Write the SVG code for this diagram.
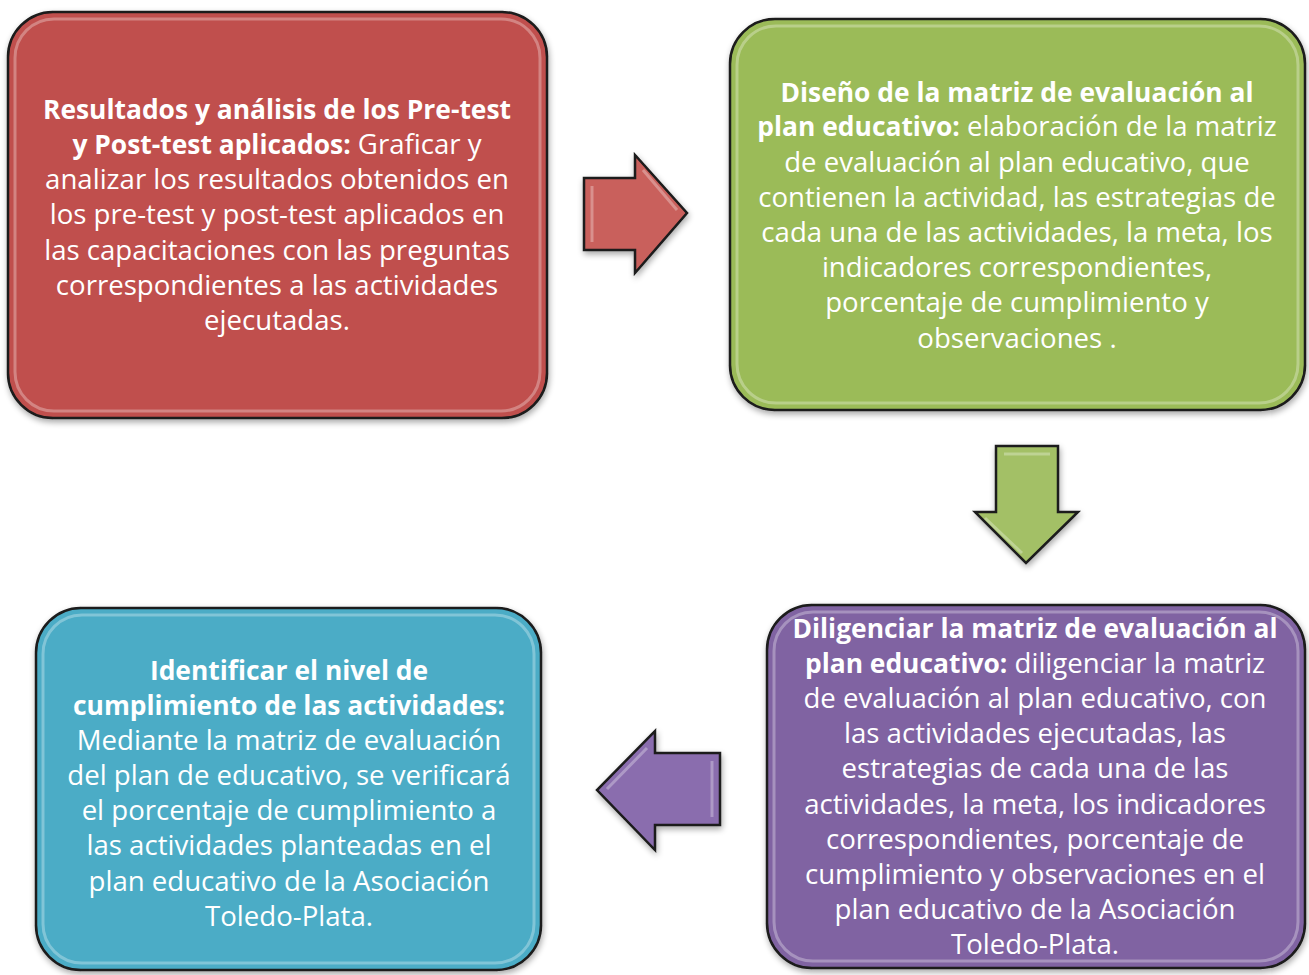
<svg xmlns="http://www.w3.org/2000/svg" width="1309" height="975" viewBox="0 0 1309 975">
<style>
.t{font-family:"Open Sans","Noto Sans",sans-serif;font-size:27.6px;fill:#fff;text-anchor:middle}
.b{font-weight:bold;font-size:26.4px}
.box{stroke:#1a1a1a;stroke-width:2.5}
.hl{fill:none;stroke:#fff;stroke-opacity:.3;stroke-width:3}
.arr{stroke:#1a1a1a;stroke-width:2.5;stroke-linejoin:miter}
</style>
<defs>
<filter id="sh" x="-10%" y="-10%" width="120%" height="120%"><feGaussianBlur in="SourceAlpha" stdDeviation="3"/><feOffset dx="1" dy="3"/><feComponentTransfer><feFuncA type="linear" slope="0.35"/></feComponentTransfer><feMerge><feMergeNode/><feMergeNode in="SourceGraphic"/></feMerge></filter>
</defs>
<g id="connectors">
<path class="arr" d="M584,178 H635 V155 L687,213 L635,273 V250 H584 Z" fill="#C9605C" filter="url(#sh)"/>
<path d="M592,186 V242 M643,170 L677,210" class="hl"/>
<path class="arr" d="M996,446 H1058 V512 H1078 L1026,563 L975,512 H996 Z" fill="#A3C066" filter="url(#sh)"/>
<path d="M1004,454 H1050 M985,518 L1022,553" class="hl"/>
<path class="arr" d="M720,753 V825 H655 V850 L597,790 L655,731 V753 Z" fill="#8A6DAE" filter="url(#sh)"/>
<path d="M712,761 V817 M607,789 L647,748" class="hl"/>
</g>
<g id="n1">
<rect class="box" x="8" y="12" width="539" height="406" rx="45" fill="#C0504D" filter="url(#sh)"/>
<rect class="hl" x="15" y="19" width="525" height="392" rx="39"/>
<text class="t"><tspan class="b" x="277" y="119">Resultados y análisis de los Pre-test</tspan><tspan x="277" y="154"><tspan class="b">y Post-test aplicados:</tspan> Graficar y</tspan><tspan x="277" y="189">analizar los resultados obtenidos en</tspan><tspan x="277" y="224">los pre-test y post-test aplicados en</tspan><tspan x="277" y="260">las capacitaciones con las preguntas</tspan><tspan x="277" y="295">correspondientes a las actividades</tspan><tspan x="277" y="330">ejecutadas.</tspan></text>
</g>
<g id="n2">
<rect class="box" x="730" y="19" width="575" height="391" rx="45" fill="#9BBB59" filter="url(#sh)"/>
<rect class="hl" x="737" y="26" width="561" height="377" rx="39"/>
<text class="t"><tspan class="b" x="1017" y="102">Diseño de la matriz de evaluación al</tspan><tspan x="1017" y="136"><tspan class="b">plan educativo:</tspan> elaboración de la matriz</tspan><tspan x="1017" y="172">de evaluación al plan educativo, que</tspan><tspan x="1017" y="207">contienen la actividad, las estrategias de</tspan><tspan x="1017" y="242">cada una de las actividades, la meta, los</tspan><tspan x="1017" y="277">indicadores correspondientes,</tspan><tspan x="1017" y="312">porcentaje de cumplimiento y</tspan><tspan x="1017" y="348">observaciones .</tspan></text>
</g>
<g id="n3">
<rect class="box" x="767" y="605" width="538" height="363" rx="45" fill="#8064A2" filter="url(#sh)"/>
<rect class="hl" x="774" y="612" width="524" height="349" rx="39"/>
<text class="t"><tspan class="b" x="1035" y="638">Diligenciar la matriz de evaluación al</tspan><tspan x="1035" y="673"><tspan class="b">plan educativo:</tspan> diligenciar la matriz</tspan><tspan x="1035" y="708">de evaluación al plan educativo, con</tspan><tspan x="1035" y="743">las actividades ejecutadas, las</tspan><tspan x="1035" y="778">estrategias de cada una de las</tspan><tspan x="1035" y="814">actividades, la meta, los indicadores</tspan><tspan x="1035" y="849">correspondientes, porcentaje de</tspan><tspan x="1035" y="884">cumplimiento y observaciones en el</tspan><tspan x="1035" y="919">plan educativo de la Asociación</tspan><tspan x="1035" y="954">Toledo-Plata.</tspan></text>
</g>
<g id="n4">
<rect class="box" x="36" y="608" width="505" height="362" rx="45" fill="#4BACC6" filter="url(#sh)"/>
<rect class="hl" x="43" y="615" width="491" height="348" rx="39"/>
<text class="t"><tspan class="b" x="289" y="680">Identificar el nivel de</tspan><tspan class="b" x="289" y="715">cumplimiento de las actividades:</tspan><tspan x="289" y="750">Mediante la matriz de evaluación</tspan><tspan x="289" y="785">del plan de educativo, se verificará</tspan><tspan x="289" y="820">el porcentaje de cumplimiento a</tspan><tspan x="289" y="855">las actividades planteadas en el</tspan><tspan x="289" y="891">plan educativo de la Asociación</tspan><tspan x="289" y="926">Toledo-Plata.</tspan></text>
</g>
</svg>
